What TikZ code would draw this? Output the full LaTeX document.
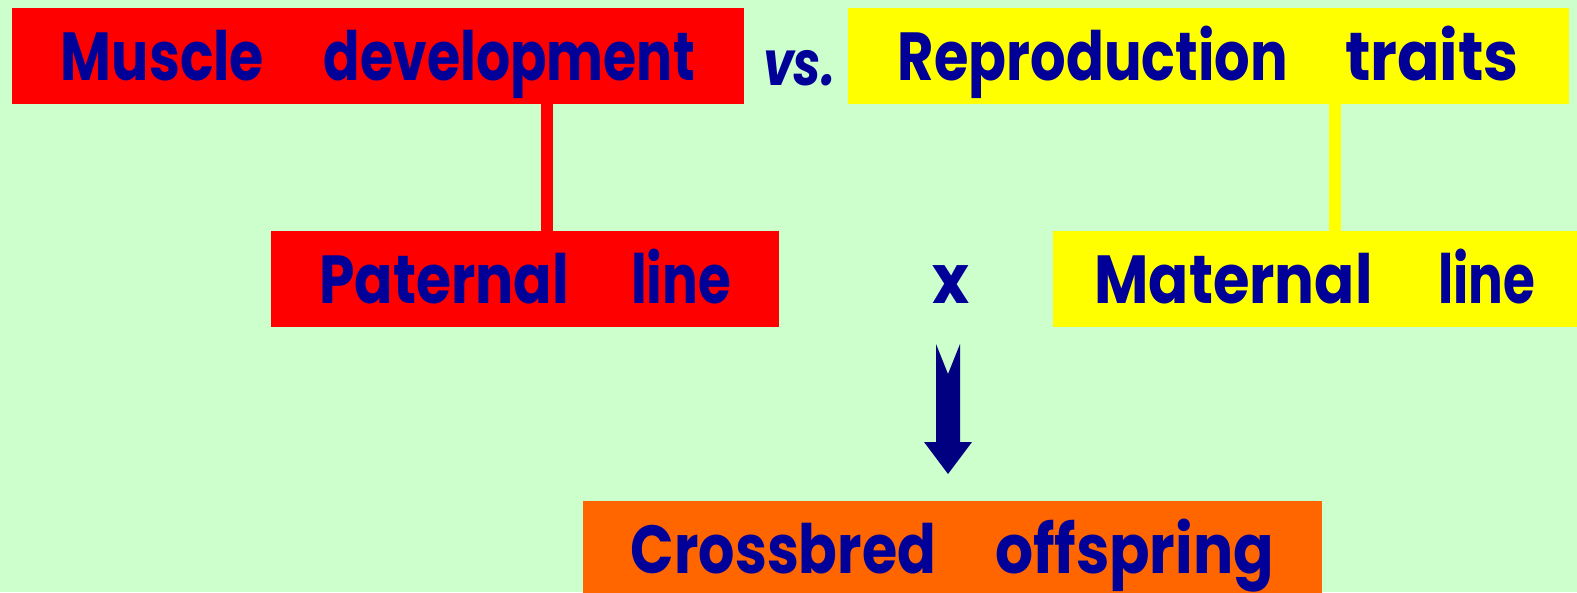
\documentclass[tikz,border=0pt]{standalone}
\usepackage{fontspec}
\setmainfont{Poppins}
\usepackage{graphicx}
\definecolor{bgmint}{HTML}{CCFFCC}
\definecolor{boxred}{HTML}{FF0000}
\definecolor{boxyellow}{HTML}{FFFF00}
\definecolor{boxorange}{HTML}{FF6600}
\definecolor{navytext}{HTML}{000099}
\definecolor{navyarrow}{HTML}{000080}
% a word squeezed to a given width, its height kept
\newcommand\fitword[2]{\resizebox{#1pt}{\height}{#2}}
\tikzset{
  labelbox/.style={inner sep=0pt, text height=48pt, text depth=0pt,
    minimum height=96pt, text=navytext,
    font=\fontsize{68}{72}\selectfont\bfseries},
  stem/.style={line width=12pt},
  plain/.style={inner sep=0pt, text height=48pt, text depth=0pt, text=navytext,
    font=\fontsize{68}{72}\selectfont\bfseries},
}
\begin{document}
\begin{tikzpicture}[x=1pt,y=-1pt]
  \fill[bgmint] (0,0) rectangle (1577,592);
  \useasboundingbox (0,0) rectangle (1577,592);
  % top row
  \node[labelbox, fill=boxred, minimum width=732pt] (muscle) at (378,56)
    {\fitword{203}{Muscle}\hspace{60pt}\fitword{371}{development}};
  \node[plain, font=\fontsize{62}{66}\selectfont\bfseries\itshape] (vs) at (799,61) {\fitword{72}{vs.}};
  \node[labelbox, fill=boxyellow, minimum width=721pt] (repro) at (1208.5,56)
    {\fitword{390}{Reproduction}\hspace{57pt}\fitword{174}{traits}};
  % breeding lines
  \node[labelbox, fill=boxred, minimum width=508pt] (paternal) at (525,279)
    {\fitword{250}{Paternal}\hspace{62pt}\fitword{100}{line}};
  \node[plain] (cross) at (950.5,279) {\fitword{37}{x}};
  \node[labelbox, fill=boxyellow, minimum width=524pt] (maternal) at (1315,279)
    {\fitword{278}{Maternal}\hspace{66pt}\fitword{97}{line}};
  % offspring
  \node[labelbox, fill=boxorange, minimum width=739pt] (offspring) at (952.5,549)
    {\fitword{305}{Crossbred}\hspace{59pt}\fitword{279}{offspring}};
  % stems from traits to lines
  \coordinate (stemA) at (547,0);
  \coordinate (stemB) at (1335,0);
  \draw[stem, boxred] (muscle.south -| stemA) -- (paternal.north -| stemA);
  \draw[stem, boxyellow] (repro.south -| stemB) -- (maternal.north -| stemB);
  % notched block arrow
  \fill[navyarrow] (936,344) -- (948,374) -- (960,344) -- (960,442) -- (972,442)
    -- (948,474) -- (924,442) -- (936,442) -- cycle;
\end{tikzpicture}
\end{document}
